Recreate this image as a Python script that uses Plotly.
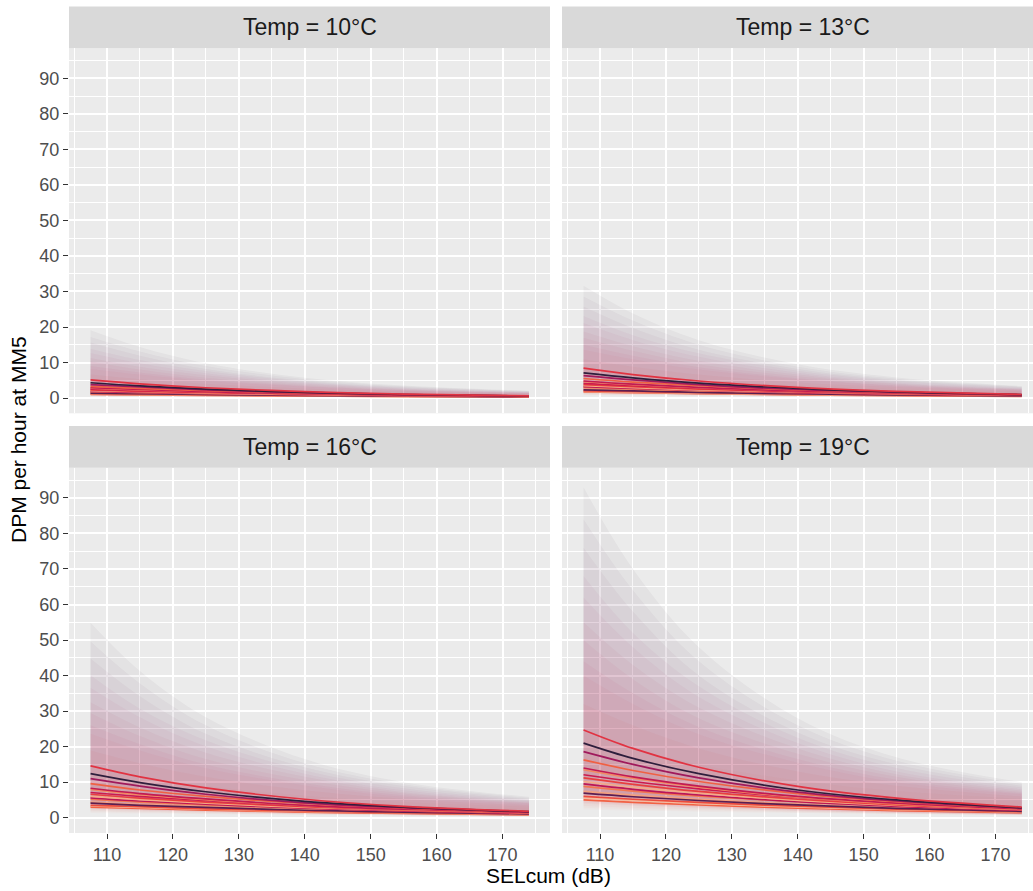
import plotly.graph_objects as go

# ---------------- data ----------------
SEL = [107.5, 115, 125, 140, 155, 174]          # SELcum (dB) sample positions
TEMPS = ["10", "13", "16", "19"]                # facet temperatures (°C)
X_TICKS = [110, 120, 130, 140, 150, 160, 170]
Y_TICKS = [0, 10, 20, 30, 40, 50, 60, 70, 80, 90]

LINE_COLORS = ["#E13342", "#2E1E3C", "#A01A5C", "#F06043", "#C21B52", "#F58860",
               "#CB1B4F", "#E83F3F", "#F6AB87", "#BC1656", "#F37651", "#5B1E51",
               "#F5A07E", "#EC4B3E", "#F6BC9C", "#F26243"]

FIT_10 = [
    [5.1, 4.0, 2.9, 1.8, 1.1, 0.62],
    [4.3, 3.4, 2.5, 1.6, 1.0, 0.57],
    [3.8, 3.1, 2.3, 1.5, 0.96, 0.55],
    [3.3, 2.7, 2.1, 1.4, 0.92, 0.55],
    [2.9, 2.4, 1.8, 1.2, 0.84, 0.51],
    [2.8, 2.3, 1.8, 1.2, 0.80, 0.49],
    [2.5, 2.1, 1.7, 1.2, 0.82, 0.53],
    [2.3, 1.9, 1.5, 1.1, 0.74, 0.47],
    [2.1, 1.8, 1.4, 1.0, 0.72, 0.47],
    [1.9, 1.6, 1.3, 0.92, 0.66, 0.43],
    [1.8, 1.5, 1.25, 0.92, 0.68, 0.45],
    [1.4, 1.2, 1.0, 0.74, 0.54, 0.37],
    [1.5, 1.3, 1.07, 0.78, 0.57, 0.39],
    [1.2, 1.07, 0.88, 0.66, 0.50, 0.35],
    [1.15, 1.0, 0.83, 0.62, 0.47, 0.33],
    [1.0, 0.89, 0.73, 0.55, 0.41, 0.29],
]
FIT_13 = [
    [8.4, 6.6, 4.8, 3.0, 1.9, 1.0],
    [7.1, 5.7, 4.2, 2.7, 1.7, 0.95],
    [6.3, 5.1, 3.8, 2.4, 1.6, 0.92],
    [5.5, 4.5, 3.5, 2.3, 1.5, 0.92],
    [4.8, 3.9, 3.0, 2.0, 1.4, 0.85],
    [4.6, 3.8, 2.9, 2.0, 1.3, 0.82],
    [4.1, 3.5, 2.8, 1.9, 1.4, 0.88],
    [3.8, 3.2, 2.5, 1.8, 1.2, 0.78],
    [3.5, 2.9, 2.3, 1.7, 1.2, 0.78],
    [3.2, 2.7, 2.2, 1.5, 1.1, 0.71],
    [3.0, 2.6, 2.1, 1.5, 1.1, 0.75],
    [2.3, 2.0, 1.6, 1.2, 0.9, 0.61],
    [2.5, 2.2, 1.8, 1.3, 0.95, 0.65],
    [2.0, 1.8, 1.5, 1.1, 0.83, 0.58],
    [1.9, 1.65, 1.4, 1.0, 0.78, 0.54],
    [1.7, 1.5, 1.2, 0.91, 0.69, 0.48],
]
FIT_16 = [
    [14.6, 11.5, 8.4, 5.2, 3.2, 1.8],
    [12.4, 9.9, 7.3, 4.6, 3.0, 1.7],
    [11.0, 8.9, 6.6, 4.2, 2.8, 1.6],
    [9.6, 7.8, 6.0, 4.0, 2.7, 1.6],
    [8.3, 6.8, 5.3, 3.5, 2.4, 1.5],
    [8.0, 6.5, 5.1, 3.4, 2.3, 1.4],
    [7.1, 6.0, 4.8, 3.4, 2.4, 1.5],
    [6.6, 5.5, 4.4, 3.1, 2.1, 1.4],
    [6.0, 5.1, 4.1, 2.9, 2.1, 1.4],
    [5.6, 4.7, 3.8, 2.7, 1.9, 1.2],
    [5.2, 4.4, 3.6, 2.7, 1.9, 1.3],
    [4.1, 3.5, 2.9, 2.1, 1.6, 1.1],
    [4.4, 3.7, 3.1, 2.2, 1.7, 1.1],
    [3.5, 3.1, 2.5, 1.9, 1.4, 1.0],
    [3.3, 2.9, 2.4, 1.8, 1.4, 0.9],
    [3.0, 2.6, 2.1, 1.6, 1.2, 0.8],
]
FIT_19 = [
    [24.7, 19.5, 14.2, 8.8, 5.5, 3.0],
    [21.0, 16.7, 12.4, 7.8, 5.0, 2.8],
    [18.6, 15.0, 11.2, 7.2, 4.7, 2.7],
    [16.3, 13.3, 10.2, 6.8, 4.5, 2.7],
    [14.0, 11.5, 8.9, 6.0, 4.1, 2.5],
    [13.5, 11.1, 8.6, 5.8, 3.9, 2.4],
    [12.1, 10.2, 8.1, 5.7, 4.0, 2.6],
    [11.2, 9.4, 7.4, 5.2, 3.6, 2.3],
    [10.2, 8.6, 6.9, 4.9, 3.5, 2.3],
    [9.5, 8.0, 6.4, 4.5, 3.2, 2.1],
    [8.8, 7.5, 6.1, 4.5, 3.3, 2.2],
    [6.9, 5.9, 4.85, 3.6, 2.65, 1.8],
    [7.4, 6.35, 5.2, 3.8, 2.8, 1.9],
    [6.0, 5.2, 4.3, 3.24, 2.44, 1.7],
    [5.6, 4.86, 4.03, 3.04, 2.29, 1.6],
    [5.0, 4.33, 3.58, 2.69, 2.02, 1.4],
]

RIB_COLORS = ["#35193E", "#4C1D4B", "#701F57", "#961C5B", "#A91A5A", "#BC1656",
              "#CB1B4F", "#D6204A", "#E13342", "#E83F3F", "#F06043", "#F58860"]

UPPER_10 = [
    [19.1, 14.4, 9.8, 5.7, 3.5, 2.05],
    [17.2, 13.1, 9.0, 5.3, 3.3, 1.95],
    [15.6, 11.9, 8.2, 4.9, 3.1, 1.85],
    [13.9, 10.7, 7.6, 4.6, 2.9, 1.74],
    [12.7, 9.8, 7.0, 4.3, 2.7, 1.64],
    [11.3, 8.8, 6.4, 4.0, 2.5, 1.56],
    [10.3, 8.0, 5.7, 3.7, 2.36, 1.48],
    [9.0, 7.2, 5.2, 3.4, 2.2, 1.41],
    [8.2, 6.6, 4.8, 3.2, 2.05, 1.35],
    [6.6, 5.3, 4.0, 2.7, 1.85, 1.23],
    [4.9, 4.0, 3.1, 2.15, 1.54, 1.09],
    [3.5, 2.9, 2.25, 1.64, 1.23, 0.92],
]
LOWER_10 = [
    [1.54, 1.23, 0.92, 0.62, 0.41, 0.23],
    [1.44, 1.15, 0.87, 0.58, 0.39, 0.22],
    [1.33, 1.07, 0.82, 0.55, 0.37, 0.21],
    [1.23, 1.0, 0.77, 0.52, 0.36, 0.21],
    [1.13, 0.92, 0.72, 0.49, 0.35, 0.21],
    [1.03, 0.85, 0.67, 0.46, 0.33, 0.2],
    [0.94, 0.78, 0.62, 0.43, 0.31, 0.19],
    [0.86, 0.73, 0.58, 0.41, 0.29, 0.19],
    [0.8, 0.68, 0.55, 0.39, 0.28, 0.18],
    [0.68, 0.57, 0.47, 0.35, 0.26, 0.17],
    [0.57, 0.49, 0.41, 0.31, 0.23, 0.16],
    [0.47, 0.41, 0.35, 0.27, 0.19, 0.14],
]
UPPER_13 = [
    [31.6, 23.8, 16.3, 9.5, 5.8, 3.4],
    [28.6, 21.8, 15.0, 8.8, 5.4, 3.2],
    [25.8, 19.7, 13.6, 8.2, 5.1, 3.1],
    [23.1, 17.7, 12.6, 7.7, 4.8, 2.9],
    [21.1, 16.3, 11.6, 7.1, 4.4, 2.7],
    [18.7, 14.6, 10.5, 6.6, 4.1, 2.6],
    [17.0, 13.3, 9.5, 6.1, 3.9, 2.45],
    [15.0, 11.9, 8.7, 5.6, 3.6, 2.35],
    [13.6, 10.9, 8.0, 5.3, 3.4, 2.25],
    [10.9, 8.8, 6.6, 4.4, 3.1, 2.0],
    [8.2, 6.6, 5.1, 3.6, 2.55, 1.8],
    [5.8, 4.8, 3.7, 2.7, 2.0, 1.53],
]
LOWER_13 = [
    [2.55, 2.0, 1.53, 1.0, 0.68, 0.37],
    [2.38, 1.9, 1.45, 0.97, 0.65, 0.36],
    [2.2, 1.77, 1.36, 0.92, 0.61, 0.34],
    [2.04, 1.65, 1.28, 0.87, 0.6, 0.34],
    [1.87, 1.53, 1.19, 0.82, 0.58, 0.34],
    [1.7, 1.41, 1.1, 0.77, 0.54, 0.33],
    [1.56, 1.3, 1.0, 0.71, 0.51, 0.32],
    [1.43, 1.21, 0.97, 0.68, 0.48, 0.31],
    [1.33, 1.12, 0.92, 0.65, 0.46, 0.31],
    [1.12, 0.95, 0.78, 0.58, 0.43, 0.29],
    [0.95, 0.82, 0.68, 0.51, 0.37, 0.27],
    [0.78, 0.68, 0.58, 0.44, 0.32, 0.24],
]
UPPER_16 = [
    [54.9, 41.3, 28.3, 16.5, 10.0, 5.9],
    [49.6, 37.8, 26.0, 15.3, 9.4, 5.6],
    [44.8, 34.2, 23.6, 14.2, 8.9, 5.3],
    [40.1, 30.7, 21.8, 13.3, 8.3, 5.0],
    [36.6, 28.3, 20.1, 12.4, 7.7, 4.7],
    [32.5, 25.4, 18.3, 11.5, 7.2, 4.5],
    [29.5, 23.0, 16.5, 10.6, 6.8, 4.25],
    [26.0, 20.7, 15.0, 9.7, 6.3, 4.1],
    [23.6, 18.9, 13.9, 9.1, 5.9, 3.9],
    [18.9, 15.3, 11.5, 7.7, 5.3, 3.5],
    [14.2, 11.5, 8.9, 6.2, 4.4, 3.1],
    [10.0, 8.3, 6.5, 4.7, 3.5, 2.65],
]
LOWER_16 = [
    [4.4, 3.5, 2.65, 1.8, 1.2, 0.65],
    [4.1, 3.3, 2.5, 1.7, 1.12, 0.62],
    [3.8, 3.1, 2.4, 1.6, 1.06, 0.59],
    [3.5, 2.9, 2.2, 1.5, 1.03, 0.59],
    [3.2, 2.65, 2.1, 1.4, 1.0, 0.59],
    [2.95, 2.45, 1.9, 1.33, 0.94, 0.57],
    [2.7, 2.2, 1.8, 1.24, 0.89, 0.56],
    [2.5, 2.1, 1.7, 1.18, 0.84, 0.54],
    [2.3, 1.95, 1.6, 1.1, 0.8, 0.53],
    [1.95, 1.65, 1.36, 1.0, 0.74, 0.5],
    [1.65, 1.4, 1.2, 0.89, 0.65, 0.46],
    [1.36, 1.2, 1.0, 0.77, 0.56, 0.41],
]
UPPER_19 = [
    [93.0, 70.0, 48.0, 28.0, 17.0, 10.0],
    [84.0, 64.0, 44.0, 26.0, 16.0, 9.5],
    [76.0, 58.0, 40.0, 24.0, 15.0, 9.0],
    [68.0, 52.0, 37.0, 22.5, 14.0, 8.5],
    [62.0, 48.0, 34.0, 21.0, 13.0, 8.0],
    [55.0, 43.0, 31.0, 19.5, 12.2, 7.6],
    [50.0, 39.0, 28.0, 18.0, 11.5, 7.2],
    [44.0, 35.0, 25.5, 16.5, 10.7, 6.9],
    [40.0, 32.0, 23.5, 15.5, 10.0, 6.6],
    [32.0, 26.0, 19.5, 13.0, 9.0, 6.0],
    [24.0, 19.5, 15.0, 10.5, 7.5, 5.3],
    [17.0, 14.0, 11.0, 8.0, 6.0, 4.5],
]
LOWER_19 = [
    [7.5, 6.0, 4.5, 3.0, 2.0, 1.1],
    [7.0, 5.6, 4.25, 2.85, 1.9, 1.05],
    [6.5, 5.2, 4.0, 2.7, 1.8, 1.0],
    [6.0, 4.85, 3.75, 2.55, 1.75, 1.0],
    [5.5, 4.5, 3.5, 2.4, 1.7, 1.0],
    [5.0, 4.15, 3.25, 2.25, 1.6, 0.97],
    [4.6, 3.8, 3.0, 2.1, 1.5, 0.95],
    [4.2, 3.55, 2.85, 2.0, 1.42, 0.92],
    [3.9, 3.3, 2.7, 1.9, 1.35, 0.9],
    [3.3, 2.8, 2.3, 1.7, 1.25, 0.85],
    [2.8, 2.4, 2.0, 1.5, 1.1, 0.78],
    [2.3, 2.0, 1.7, 1.3, 0.95, 0.7],
]

FITS = {"10": FIT_10, "13": FIT_13, "16": FIT_16, "19": FIT_19}
UPPERS = {"10": UPPER_10, "13": UPPER_13, "16": UPPER_16, "19": UPPER_19}
LOWERS = {"10": LOWER_10, "13": LOWER_13, "16": LOWER_16, "19": LOWER_19}

# ---------------- layout geometry ----------------
W, H = 1033, 891
ML, MR, MT, MB = 69, 0, 6, 58
PW, PH = W - ML - MR, H - MT - MB


def px_x(p):
    return (p - ML) / PW


def px_y(p):
    return (H - MB - p) / PH


X_DOM = [[px_x(69), px_x(550)], [px_x(562), 1.0]]
Y_DOM = [[px_y(413.3), px_y(48.2)], [0.0, px_y(467.7)]]
STRIP_Y = [[px_y(48.2), px_y(6.5)], [px_y(467.7), px_y(426)]]
X_RANGES = [[104.23, 177.2], [104.23, 175.7]]
Y_RANGE = [-4.3, 98.5]
PANEL_W = px_x(550) - px_x(69)

FONT = "Liberation Sans, Arial, sans-serif"


def rgba(hexc, a):
    h = hexc.lstrip("#")
    return "rgba(%d,%d,%d,%.3f)" % (int(h[0:2], 16), int(h[2:4], 16), int(h[4:6], 16), a)


fig = go.Figure()

for k, t in enumerate(TEMPS):
    axn = "" if k == 0 else str(k + 1)
    xa, ya = "x" + axn, "y" + axn
    # confidence ribbons
    for i, (lo, up) in enumerate(zip(LOWERS[t], UPPERS[t])):
        fig.add_trace(go.Scatter(x=SEL, y=lo, xaxis=xa, yaxis=ya, mode="lines",
                                 line=dict(width=0, shape="spline"),
                                 showlegend=False, hoverinfo="skip"))
        fig.add_trace(go.Scatter(x=SEL, y=up, xaxis=xa, yaxis=ya, mode="lines",
                                 line=dict(width=0, shape="spline"),
                                 fill="tonexty", fillcolor=rgba(RIB_COLORS[i], 0.04),
                                 showlegend=False, hoverinfo="skip"))
    # fitted lines (lower ones drawn first)
    for i in reversed(range(len(FITS[t]))):
        fig.add_trace(go.Scatter(x=SEL, y=FITS[t][i], xaxis=xa, yaxis=ya, mode="lines",
                                 line=dict(color=LINE_COLORS[i], width=1.7, shape="spline"),
                                 showlegend=False))

layout = dict(
    width=W, height=H,
    margin=dict(l=ML, r=MR, t=MT, b=MB),
    paper_bgcolor="white", plot_bgcolor="#EBEBEB",
    font=dict(family=FONT, color="#4D4D4D", size=18),
    showlegend=False,
)

shapes, annotations = [], []
for k, t in enumerate(TEMPS):
    row, col = k // 2, k % 2
    axn = "" if k == 0 else str(k + 1)
    bottom = row == 1
    left = col == 0
    layout["xaxis" + axn] = dict(
        domain=X_DOM[col], range=X_RANGES[col], anchor="y" + axn,
        tickmode="array", tickvals=X_TICKS,
        showticklabels=bottom, ticks="outside" if bottom else "",
        ticklen=5, tickwidth=1.1, tickcolor="#333333",
        tickfont=dict(size=18, color="#4D4D4D", family=FONT),
        showgrid=True, gridcolor="white", gridwidth=1.8,
        minor=dict(tick0=105, dtick=10, showgrid=True, gridcolor="white",
                   gridwidth=0.9, ticks=""),
        zeroline=False, showline=False, fixedrange=True,
    )
    layout["yaxis" + axn] = dict(
        domain=Y_DOM[row], range=Y_RANGE, anchor="x" + axn,
        tickmode="array", tickvals=Y_TICKS,
        showticklabels=left, ticks="outside" if left else "",
        ticklen=5, tickwidth=1.1, tickcolor="#333333",
        tickfont=dict(size=18, color="#4D4D4D", family=FONT),
        showgrid=True, gridcolor="white", gridwidth=1.8,
        minor=dict(tick0=5, dtick=10, showgrid=True, gridcolor="white",
                   gridwidth=0.9, ticks=""),
        zeroline=False, showline=False, fixedrange=True,
    )
    shapes.append(dict(type="rect", xref="paper", yref="paper",
                       x0=X_DOM[col][0], x1=X_DOM[col][1],
                       y0=STRIP_Y[row][0], y1=STRIP_Y[row][1],
                       fillcolor="#D9D9D9", line=dict(width=0), layer="below"))
    annotations.append(dict(text="Temp = %s°C" % t, xref="paper", yref="paper",
                            x=X_DOM[col][0] + PANEL_W / 2,
                            y=(STRIP_Y[row][0] + STRIP_Y[row][1]) / 2,
                            xanchor="center", yanchor="middle", showarrow=False,
                            font=dict(size=23, color="#1A1A1A", family=FONT)))

annotations.append(dict(text="SELcum (dB)", xref="paper", yref="paper",
                        x=px_x(548), y=px_y(875), xanchor="center", yanchor="middle",
                        showarrow=False, font=dict(size=21, color="black", family=FONT)))
annotations.append(dict(text="DPM per hour at MM5", xref="paper", yref="paper",
                        x=px_x(18), y=px_y(440), xanchor="center", yanchor="middle",
                        textangle=-90, showarrow=False,
                        font=dict(size=21, color="black", family=FONT)))

layout["shapes"] = shapes
layout["annotations"] = annotations
fig.update_layout(**layout)

fig.write_html("out.html")
